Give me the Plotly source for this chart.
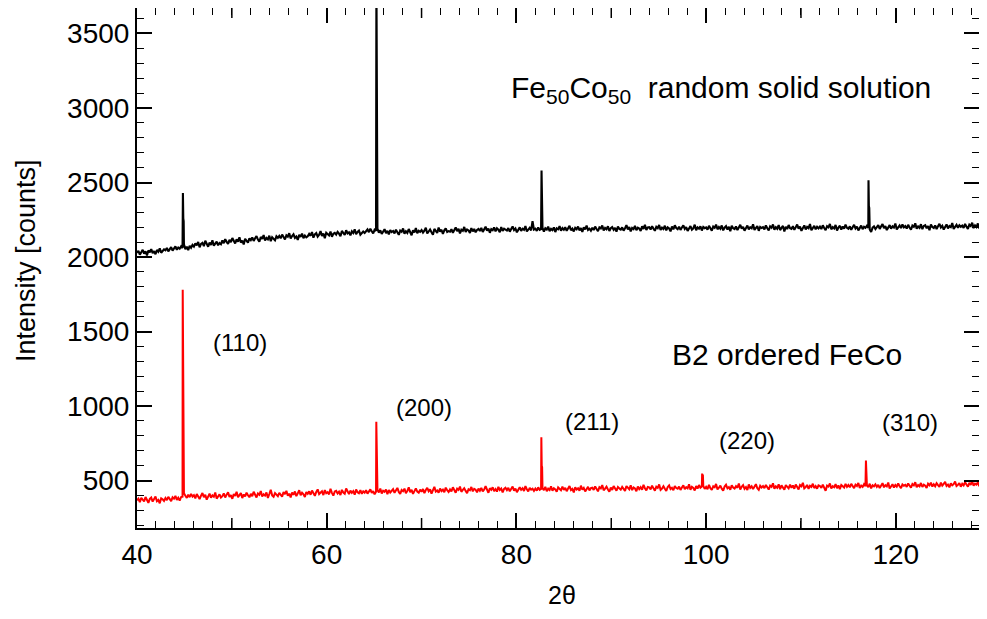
import numpy as np
import plotly.graph_objects as go

# ---------------- data ----------------
two_theta_start = 40.0
two_theta_step = 0.15
n_points = 601
two_theta = np.round(two_theta_start + two_theta_step * np.arange(n_points), 2)

# B2 ordered FeCo (red) background, one value per 0.15 deg (20 per row = 3 deg)
b2_counts = [
    368, 379, 355, 384, 372, 361, 390, 366, 351, 377, 386, 359, 374, 393, 362, 370, 348, 381, 375, 364,
    383, 369, 391, 374, 362, 388, 379, 397, 371, 385, 366, 390, 392, 415, 398, 384, 405, 389, 411, 393,
    402, 381, 410, 394, 376, 399, 417, 388, 405, 372, 396, 413, 385, 401, 392, 420, 379, 398, 408, 386,
    395, 414, 387, 406, 422, 391, 403, 378, 410, 397, 425, 389, 401, 416, 383, 407, 394, 419, 402, 388,
    411, 396, 425, 402, 387, 414, 405, 430, 393, 408, 399, 421, 384, 410, 438, 401, 392, 416, 407, 395,
    418, 401, 392, 424, 409, 431, 398, 412, 387, 420, 405, 427, 396, 414, 435, 402, 419, 408, 390, 423,
    412, 428, 405, 433, 419, 398, 424, 441, 410, 417, 429, 403, 436, 415, 422, 408, 445, 418, 399, 427,
    431, 414, 426, 403, 438, 420, 412, 447, 425, 409, 433, 418, 429, 406, 441, 422, 415, 436, 411, 428,
    419, 436, 412, 428, 441, 417, 430, 408, 426, 435, 421, 446, 413, 432, 425, 440, 409, 437, 420, 431,
    442, 418, 433, 451, 424, 410, 437, 429, 446, 415, 431, 455, 422, 438, 411, 434, 448, 426, 419, 440,
    425, 444, 416, 437, 452, 429, 441, 413, 436, 458, 427, 434, 419, 447, 430, 439, 422, 453, 435, 424,
    441, 428, 455, 433, 419, 446, 438, 460, 425, 437, 449, 431, 416, 442, 435, 457, 428, 444, 439, 421,
    446, 432, 451, 427, 440, 462, 435, 418, 449, 438, 455, 430, 443, 426, 458, 437, 447, 421, 444, 452,
    436, 451, 428, 445, 460, 433, 447, 422, 441, 456, 438, 449, 430, 463, 442, 427, 452, 439, 446, 431,
    447, 433, 455, 438, 444, 450, 436, 458, 429, 446, 437, 461, 432, 449, 441, 425, 454, 443, 435, 459,
    438, 452, 429, 447, 463, 436, 444, 421, 455, 440, 448, 432, 466, 439, 451, 427, 445, 458, 434, 449,
    452, 437, 461, 443, 428, 456, 448, 470, 435, 446, 459, 441, 425, 453, 438, 464, 447, 432, 457, 444,
    439, 458, 445, 431, 463, 450, 442, 468, 436, 454, 447, 429, 461, 443, 456, 438, 472, 449, 434, 457,
    455, 441, 466, 448, 433, 459, 451, 474, 438, 447, 462, 445, 430, 457, 468, 443, 452, 436, 464, 450,
    446, 460, 437, 453, 469, 442, 456, 448, 475, 439, 458, 451, 434, 463, 447, 470, 452, 460, 465, 444,
    458, 443, 471, 449, 437, 462, 455, 478, 441, 452, 466, 446, 433, 460, 472, 448, 457, 439, 469, 453,
    447, 463, 452, 480, 441, 458, 469, 445, 456, 437, 474, 451, 462, 443, 459, 476, 449, 438, 465, 454,
    463, 449, 471, 455, 440, 466, 458, 482, 446, 461, 452, 475, 443, 468, 457, 439, 470, 460, 448, 473,
    452, 467, 445, 474, 459, 441, 470, 462, 485, 448, 456, 471, 444, 465, 458, 479, 450, 463, 446, 468,
    464, 451, 473, 457, 432, 466, 460, 481, 447, 462, 455, 476, 449, 468, 443, 470, 461, 453, 478, 458,
    470, 455, 478, 462, 449, 473, 464, 484, 451, 467, 458, 476, 463, 470, 456, 479, 448, 468, 461, 475,
    458, 472, 450, 466, 483, 455, 469, 461, 487, 447, 464, 476, 453, 470, 459, 481, 462, 449, 474, 466,
    472, 458, 481, 463, 452, 477, 468, 489, 455, 470, 462, 484, 457, 473, 466, 450, 479, 469, 486, 460,
    475, 462, 483, 470, 458, 487, 466, 478, 491, 464, 473, 455, 481, 468, 476, 494, 463, 471, 484, 459,
    478, 467, 489, 474, 460, 485, 471, 496, 465, 480, 473, 488, 462, 477, 491, 469, 483, 475, 458, 486,
    479,
]

# Fe50Co50 random solid solution (black) background, one value per 0.15 deg
random_counts = [
    2028, 2041, 2016, 2035, 2049, 2022, 2038, 2011, 2044, 2031, 2053, 2026, 2040, 2019, 2047, 2036, 2058, 2029, 2043, 2052,
    2046, 2061, 2038, 2055, 2067, 2043, 2059, 2071, 2049, 2064, 2056, 2072, 2060, 2085, 2053, 2069, 2047, 2075, 2062, 2081,
    2070, 2092, 2078, 2101, 2066, 2088, 2095, 2073, 2109, 2084, 2069, 2097, 2081, 2112, 2076, 2090, 2103, 2079, 2094, 2086,
    2111, 2093, 2120, 2102, 2088, 2115, 2099, 2128, 2106, 2091, 2118, 2104, 2133, 2097, 2110, 2085, 2122, 2108, 2096, 2125,
    2114, 2131, 2108, 2126, 2140, 2117, 2103, 2135, 2122, 2147, 2111, 2128, 2119, 2143, 2106, 2133, 2124, 2112, 2139, 2129,
    2142, 2126, 2151, 2133, 2118, 2146, 2137, 2160, 2124, 2141, 2153, 2129, 2138, 2115, 2149, 2135, 2157, 2127, 2144, 2132,
    2139, 2155, 2143, 2168, 2130, 2152, 2161, 2137, 2149, 2174, 2141, 2158, 2127, 2163, 2150, 2145, 2171, 2136, 2156, 2162,
    2151, 2169, 2157, 2140, 2175, 2163, 2148, 2180, 2159, 2166, 2145, 2172, 2161, 2186, 2153, 2168, 2177, 2150, 2165, 2171,
    2162, 2178, 2185, 2167, 2190, 2173, 2158, 2183, 2176, 2190, 2164, 2179, 2155, 2172, 2187, 2160, 2176, 2152, 2181, 2168,
    2175, 2159, 2184, 2166, 2149, 2178, 2170, 2192, 2157, 2173, 2162, 2188, 2171, 2146, 2180, 2165, 2194, 2160, 2176, 2169,
    2181, 2164, 2177, 2196, 2158, 2173, 2185, 2167, 2150, 2189, 2176, 2162, 2198, 2171, 2183, 2155, 2179, 2192, 2168, 2174,
    2170, 2187, 2163, 2181, 2199, 2174, 2190, 2158, 2183, 2176, 2202, 2168, 2185, 2179, 2161, 2194, 2172, 2188, 2166, 2182,
    2189, 2175, 2196, 2168, 2185, 2204, 2178, 2191, 2163, 2187, 2180, 2199, 2172, 2193, 2184, 2167, 2201, 2176, 2190, 2183,
    2178, 2194, 2170, 2188, 2205, 2181, 2192, 2166, 2186, 2199, 2175, 2190, 2183, 2208, 2172, 2189, 2196, 2179, 2241, 2184,
    2190, 2176, 2198, 2183, 2188, 2195, 2170, 2193, 2185, 2204, 2174, 2189, 2181, 2199, 2168, 2192, 2186, 2207, 2177, 2194,
    2183, 2200, 2176, 2193, 2209, 2180, 2191, 2172, 2196, 2187, 2205, 2179, 2194, 2168, 2199, 2185, 2211, 2182, 2190, 2177,
    2197, 2181, 2204, 2188, 2173, 2199, 2192, 2212, 2178, 2195, 2186, 2207, 2175, 2193, 2201, 2183, 2196, 2170, 2205, 2189,
    2184, 2199, 2177, 2193, 2214, 2186, 2201, 2172, 2195, 2188, 2209, 2180, 2197, 2191, 2175, 2206, 2189, 2216, 2182, 2198,
    2200, 2185, 2207, 2191, 2176, 2203, 2194, 2215, 2181, 2197, 2188, 2210, 2179, 2199, 2192, 2172, 2205, 2186, 2213, 2195,
    2187, 2204, 2182, 2198, 2213, 2189, 2201, 2175, 2196, 2208, 2184, 2193, 2217, 2180, 2199, 2191, 2206, 2178, 2202, 2194,
    2199, 2183, 2210, 2192, 2177, 2204, 2196, 2218, 2186, 2201, 2190, 2212, 2179, 2197, 2207, 2185, 2203, 2174, 2209, 2193,
    2188, 2205, 2181, 2199, 2216, 2190, 2203, 2177, 2197, 2211, 2186, 2200, 2193, 2220, 2182, 2198, 2208, 2176, 2202, 2195,
    2201, 2186, 2212, 2193, 2179, 2206, 2197, 2219, 2184, 2200, 2190, 2214, 2181, 2196, 2209, 2172, 2203, 2188, 2215, 2194,
    2189, 2207, 2183, 2200, 2218, 2191, 2204, 2176, 2198, 2212, 2185, 2202, 2194, 2221, 2180, 2197, 2209, 2186, 2203, 2192,
    2204, 2188, 2213, 2195, 2180, 2207, 2199, 2222, 2186, 2201, 2192, 2215, 2178, 2198, 2210, 2184, 2205, 2191, 2217, 2196,
    2190, 2206, 2183, 2200, 2216, 2192, 2204, 2179, 2198, 2211, 2187, 2203, 2196, 2209, 2195, 2185, 2168, 2197, 2206, 2188,
    2201, 2215, 2189, 2205, 2222, 2193, 2208, 2181, 2200, 2214, 2190, 2206, 2198, 2225, 2185, 2203, 2212, 2194, 2219, 2199,
    2207, 2191, 2216, 2198, 2183, 2211, 2203, 2226, 2190, 2205, 2196, 2220, 2187, 2209, 2214, 2193, 2208, 2180, 2218, 2201,
    2195, 2212, 2188, 2206, 2223, 2199, 2210, 2184, 2204, 2219, 2192, 2208, 2201, 2228, 2189, 2205, 2216, 2197, 2213, 2203,
    2211, 2196, 2222, 2204, 2189, 2217, 2208, 2230, 2194, 2212, 2201, 2225, 2192, 2214, 2219, 2198, 2213, 2186, 2221, 2207,
    2209,
]

# Bragg peaks (Kalpha1 / Kalpha2 pairs)
b2_peak_2theta = [44.82, 44.86, 44.89, 44.93,
                  65.23, 65.28, 65.32,
                  82.63, 82.67, 82.71,
                  99.58, 99.62, 99.66,
                  116.85, 116.89, 116.93]
b2_peak_counts = [1780, 1250, 1100, 1070,
                  895, 690, 660,
                  790, 600, 590,
                  548, 505, 540,
                  635, 565, 555]

random_peak_2theta = [44.84, 44.88, 44.92,
                      65.24, 65.29, 65.33,
                      82.65, 82.69, 82.72,
                      117.12, 117.16, 117.20]
random_peak_counts = [2430, 2260, 2240,
                      3900, 2860, 2850,
                      2580, 2430, 2420,
                      2515, 2340, 2330]

miller_labels = ["(110)", "(200)", "(211)", "(220)", "(310)"]
miller_x = [50.9, 70.3, 88.0, 104.3, 121.5]
miller_y = [1424, 991, 897, 770, 890]

x_ticks = [40, 60, 80, 100, 120]
x_mid_ticks = [50, 70, 90, 110]
y_ticks = [500, 1000, 1500, 2000, 2500, 3000, 3500]


def merge(base_x, base_y, px, py):
    xs = np.concatenate([np.asarray(base_x, float), np.asarray(px, float)])
    ys = np.concatenate([np.asarray(base_y, float), np.asarray(py, float)])
    order = np.argsort(xs, kind="stable")
    return xs[order], ys[order]


bx, by = merge(two_theta, b2_counts, b2_peak_2theta, b2_peak_counts)
rx, ry = merge(two_theta, random_counts, random_peak_2theta, random_peak_counts)

FONT = "Liberation Sans, Arial, Helvetica, sans-serif"

fig = go.Figure()
fig.add_trace(go.Scatter(x=rx, y=ry, mode="lines",
                         line=dict(color="#000000", width=2.1),
                         showlegend=False, name="Fe50Co50"))
fig.add_trace(go.Scatter(x=bx, y=by, mode="lines",
                         line=dict(color="#ff0000", width=2.0),
                         showlegend=False, name="B2 FeCo"))

annotations = [
    dict(x=101.6, y=3123, xref="x", yref="y", xanchor="center", yanchor="middle",
         text="Fe<sub>50</sub>Co<sub>50</sub>\u00a0\u00a0random solid solution",
         showarrow=False, font=dict(size=30, color="black", family=FONT)),
    dict(x=108.5, y=1344, xref="x", yref="y", xanchor="center", yanchor="middle",
         text="B2 ordered FeCo", showarrow=False,
         font=dict(size=30, color="black", family=FONT)),
    dict(x=-0.1318, y=0.5135, xref="paper", yref="paper", xanchor="center", yanchor="middle",
         text="Intensity [counts]", textangle=-90, showarrow=False,
         font=dict(size=27, color="black", family=FONT)),
    dict(x=0.5048, y=-0.1594, xref="paper", yref="paper", xanchor="center", yanchor="bottom",
         text="2θ", showarrow=False, font=dict(size=25, color="black", family=FONT)),
]
for lab, xx, yy in zip(miller_labels, miller_x, miller_y):
    annotations.append(dict(x=xx, y=yy, xref="x", yref="y", text=lab,
                            showarrow=False, xanchor="center", yanchor="middle",
                            font=dict(size=24, color="black", family=FONT)))

shapes = []
for xv in x_mid_ticks:
    shapes.append(dict(type="line", xref="x", yref="paper", ysizemode="pixel",
                       yanchor=0, x0=xv, x1=xv, y0=0, y1=10,
                       line=dict(color="black", width=1.5)))
    shapes.append(dict(type="line", xref="x", yref="paper", ysizemode="pixel",
                       yanchor=1, x0=xv, x1=xv, y0=0, y1=-10,
                       line=dict(color="black", width=1.5)))

# the page body adds an 8 px margin, so the figure is sized to fit the window
fig.update_layout(
    width=971, height=603,
    margin=dict(l=129, r=0, t=0, b=83),
    paper_bgcolor="white", plot_bgcolor="white",
    font=dict(family=FONT, color="black"),
    annotations=annotations,
    shapes=shapes,
)
fig.update_xaxes(
    range=[40, 128.77], tickvals=x_ticks, ticks="inside", ticklen=15, tickwidth=1.5,
    tickcolor="black", showline=True, linecolor="black", linewidth=2, mirror="ticks",
    showgrid=False, zeroline=False, tickfont=dict(size=28, family=FONT), automargin=False,
    minor=dict(dtick=2, tick0=40, ticks="inside", ticklen=7, tickwidth=1.2, tickcolor="black",
               showgrid=False),
)
fig.update_yaxes(
    range=[182, 3671], tickvals=y_ticks, ticks="inside", ticklen=15, tickwidth=1.5,
    tickcolor="black", showline=True, linecolor="black", linewidth=2, mirror="ticks",
    showgrid=False, zeroline=False, tickfont=dict(size=28, family=FONT), automargin=False,
    minor=dict(dtick=100, tick0=0, ticks="inside", ticklen=7, tickwidth=1.2, tickcolor="black",
               showgrid=False),
)

fig.write_html("out.html")
